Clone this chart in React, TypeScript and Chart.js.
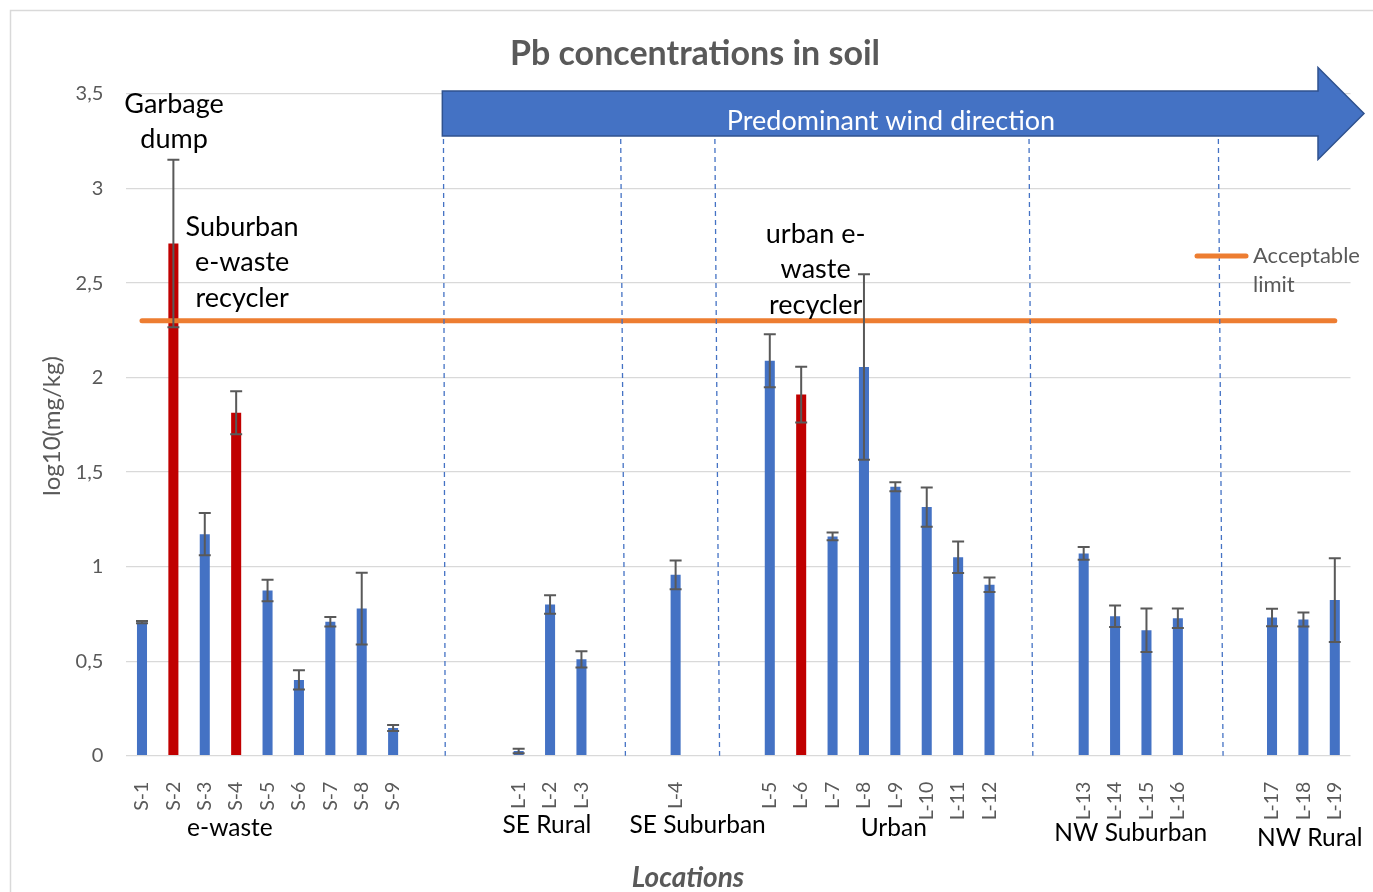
import React, { useEffect, useRef } from 'react';
import { Chart, registerables } from 'chart.js';

Chart.register(...registerables);

// Sampling sites; empty strings are spacer slots between location groups
const categories = [
  'S-1', 'S-2', 'S-3', 'S-4', 'S-5', 'S-6', 'S-7', 'S-8', 'S-9',
  '', '', '',
  'L-1', 'L-2', 'L-3',
  '', '',
  'L-4',
  '', '',
  'L-5', 'L-6', 'L-7', 'L-8', 'L-9', 'L-10', 'L-11', 'L-12',
  '', '',
  'L-13', 'L-14', 'L-15', 'L-16',
  '', '',
  'L-17', 'L-18', 'L-19',
];

// Mean log10(mg/kg) Pb per site
const leadValues = [
  0.706, 2.709, 1.172, 1.814, 0.874, 0.401, 0.709, 0.778, 0.147,
  null, null, null,
  0.025, 0.8, 0.51,
  null, null,
  0.957,
  null, null,
  2.089, 1.91, 1.16, 2.056, 1.423, 1.315, 1.05, 0.904,
  null, null,
  1.07, 0.738, 0.664, 0.727,
  null, null,
  0.731, 0.72, 0.823,
];

// Standard deviation (same units) per site
const leadErrors = [
  0.006, 0.443, 0.112, 0.114, 0.057, 0.051, 0.025, 0.19, 0.016,
  null, null, null,
  0.012, 0.049, 0.043,
  null, null,
  0.076,
  null, null,
  0.14, 0.147, 0.02, 0.49, 0.024, 0.104, 0.083, 0.038,
  null, null,
  0.034, 0.057, 0.115, 0.052,
  null, null,
  0.046, 0.037, 0.222,
];

const recyclerSites = ['S-2', 'S-4', 'L-6'];
const acceptableLimit = 2.301; // log10(200 mg/kg)
const yMin = 0;
const yMax = 3.5;
const yStep = 0.5;

const groupNames = ['e-waste', 'SE Rural', 'SE Suburban', 'Urban', 'NW Suburban', 'NW Rural'];
const groupAnchor = [2.8, 12.9, 17.7, 23.95, 31.5, 37.2];
const groupTextY = [828, 825, 825, 828, 833, 838];

// Hand-drawn separators, in category units (top end, bottom end)
const dividerTop = [9.6, 15.24, 18.24, 28.25, 34.28];
const dividerBottom = [9.66, 15.4, 18.4, 28.38, 34.44];

// Callouts: lines of text, category position, value position of each line
const callouts = [
  { lines: ['Garbage', 'dump'], at: 1.02, levels: [3.445, 3.26] },
  { lines: ['Suburban', 'e-waste', 'recycler'], at: 3.19, levels: [2.794, 2.608, 2.418] },
  { lines: ['urban e-', 'waste', 'recycler'], at: 21.46, levels: [2.756, 2.571, 2.38] },
];

const FONT = 'Lato, "Open Sans", sans-serif';
const BLUE = '#4472C4';
const RED = '#C00000';
const ORANGE = '#ED7D31';
const GREY = '#595959';
const GRID = '#D9D9D9';

const framePlugin = {
  id: 'frame',
  beforeDraw(chart: any) {
    const { ctx, width, height } = chart;
    ctx.save();
    ctx.fillStyle = '#ffffff';
    ctx.fillRect(0, 0, width, height);
    ctx.strokeStyle = GRID;
    ctx.lineWidth = 1.5;
    ctx.beginPath();
    ctx.moveTo(10.5, height + 2);
    ctx.lineTo(10.5, 10.5);
    ctx.lineTo(width + 2, 10.5);
    ctx.stroke();
    ctx.restore();
  },
};

const errorBarPlugin = {
  id: 'errorBars',
  afterDatasetsDraw(chart: any) {
    const { ctx } = chart;
    const x = chart.scales.x;
    const y = chart.scales.y;
    ctx.save();
    ctx.strokeStyle = GREY;
    ctx.lineWidth = 2;
    leadValues.forEach((v, i) => {
      const e = leadErrors[i];
      if (v == null || e == null) return;
      const px = x.getPixelForValue(i);
      const top = y.getPixelForValue(v + e);
      const bot = y.getPixelForValue(v - e);
      ctx.beginPath();
      ctx.moveTo(px, top);
      ctx.lineTo(px, bot);
      ctx.moveTo(px - 6, top);
      ctx.lineTo(px + 6, top);
      ctx.moveTo(px - 6, bot);
      ctx.lineTo(px + 6, bot);
      ctx.stroke();
    });
    ctx.restore();
  },
};

const decorPlugin = {
  id: 'decor',
  afterDraw(chart: any) {
    const { ctx, chartArea } = chart;
    const x = chart.scales.x;
    const y = chart.scales.y;
    const slot = (x.getPixelForValue(1) - x.getPixelForValue(0));
    const xAt = (idx: number) => x.getPixelForValue(0) + idx * slot;
    ctx.save();

    // dashed separators between location groups
    ctx.strokeStyle = BLUE;
    ctx.lineWidth = 1.3;
    ctx.setLineDash([5, 4]);
    dividerTop.forEach((t, i) => {
      ctx.beginPath();
      ctx.moveTo(xAt(t), chartArea.top);
      ctx.lineTo(xAt(dividerBottom[i]), chartArea.bottom);
      ctx.stroke();
    });
    ctx.setLineDash([]);

    // wind direction arrow
    const ax0 = xAt(dividerTop[0]) - 1;
    const bodyTop = 91;
    const bodyBot = 136;
    const headX = 1318;
    const tipX = 1364;
    ctx.beginPath();
    ctx.moveTo(ax0, bodyTop);
    ctx.lineTo(headX, bodyTop);
    ctx.lineTo(headX, 67.5);
    ctx.lineTo(tipX, 113.5);
    ctx.lineTo(headX, 159.5);
    ctx.lineTo(headX, bodyBot);
    ctx.lineTo(ax0, bodyBot);
    ctx.closePath();
    ctx.fillStyle = BLUE;
    ctx.fill();
    ctx.strokeStyle = '#2F528F';
    ctx.lineWidth = 1.5;
    ctx.stroke();
    ctx.fillStyle = '#ffffff';
    ctx.font = `27px ${FONT}`;
    ctx.textAlign = 'center';
    ctx.textBaseline = 'middle';
    ctx.fillText('Predominant wind direction', 891, 121);

    // chart title
    ctx.fillStyle = GREY;
    ctx.font = `bold 34px ${FONT}`;
    ctx.fillText('Pb concentrations in soil', 695, 54);

    // axis titles
    ctx.font = `bold italic 28px ${FONT}`;
    ctx.fillText('Locations', 688, 878);
    ctx.save();
    ctx.translate(52, 426);
    ctx.rotate(-Math.PI / 2);
    ctx.font = `24px ${FONT}`;
    ctx.fillText('log10(mg/kg)', 0, 0);
    ctx.restore();

    // group names under the site labels
    ctx.fillStyle = '#000000';
    ctx.font = `24.5px ${FONT}`;
    groupNames.forEach((g, i) => {
      ctx.fillText(g, xAt(groupAnchor[i]), groupTextY[i]);
    });

    // callouts
    ctx.font = `27px ${FONT}`;
    callouts.forEach((c) => {
      c.lines.forEach((line, j) => {
        ctx.fillText(line, xAt(c.at), y.getPixelForValue(c.levels[j]));
      });
    });

    // legend for the limit line
    ctx.strokeStyle = ORANGE;
    ctx.lineWidth = 5;
    ctx.lineCap = 'round';
    ctx.beginPath();
    ctx.moveTo(1197, 256);
    ctx.lineTo(1246, 256);
    ctx.stroke();
    ctx.fillStyle = GREY;
    ctx.font = `22px ${FONT}`;
    ctx.textAlign = 'left';
    ctx.fillText('Acceptable', 1253, 256);
    ctx.fillText('limit', 1253, 285);

    ctx.restore();
  },
};

export default function App() {
  const canvasRef = useRef<HTMLCanvasElement | null>(null);

  useEffect(() => {
    if (!canvasRef.current) return;
    const barColors = categories.map((c) => (recyclerSites.includes(c) ? RED : BLUE));
    const chart = new Chart(canvasRef.current, {
      type: 'bar',
      data: {
        labels: categories,
        datasets: [
          {
            type: 'line',
            label: 'Acceptable limit',
            data: categories.map(() => acceptableLimit),
            borderColor: ORANGE,
            borderWidth: 5,
            borderCapStyle: 'round',
            pointRadius: 0,
            order: 0,
          } as any,
          {
            type: 'bar',
            label: 'Pb',
            data: leadValues,
            backgroundColor: barColors,
            barPercentage: 0.32,
            categoryPercentage: 1,
            order: 1,
          },
        ],
      },
      options: {
        responsive: false,
        animation: false,
        layout: { padding: { left: 10.3, right: 22.5, top: 94, bottom: 0 } },
        plugins: {
          legend: { display: false },
          title: { display: false },
          tooltip: { enabled: false },
        },
        scales: {
          x: {
            offset: true,
            grid: { display: false },
            border: { display: false },
            ticks: {
              autoSkip: false,
              minRotation: 90,
              maxRotation: 90,
              padding: 18,
              color: GREY,
              font: { family: FONT, size: 19.5 },
            },
            afterFit: (s: any) => {
              s.height = 136.3;
              s.paddingLeft = 0;
              s.paddingRight = 0;
            },
          },
          y: {
            min: yMin,
            max: yMax,
            border: { display: false },
            grid: { color: GRID, lineWidth: 1.3, drawTicks: false },
            ticks: {
              stepSize: yStep,
              padding: 23,
              color: GREY,
              font: { family: FONT, size: 20 },
              callback: (v: any) => String(v).replace('.', ','),
            },
            afterFit: (s: any) => {
              s.width = 116;
              s.paddingTop = 0;
              s.paddingBottom = 0;
            },
          },
        },
      },
      plugins: [framePlugin, errorBarPlugin, decorPlugin],
    });
    return () => chart.destroy();
  }, []);

  return (
    <div style={{ position: 'fixed', left: 0, top: 0, width: 1373, height: 892 }}>
      <canvas ref={canvasRef} width={1373} height={892} />
    </div>
  );
}
